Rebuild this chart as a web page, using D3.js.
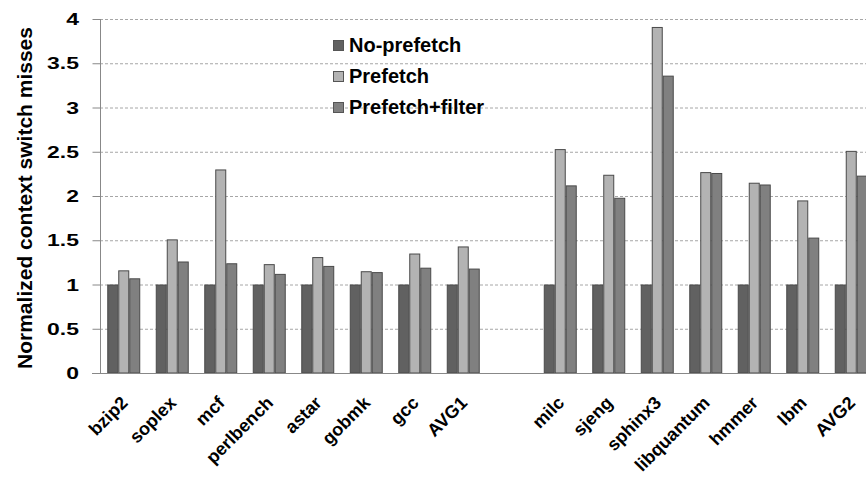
<!DOCTYPE html>
<html>
<head>
<meta charset="utf-8">
<script src="https://cdn.jsdelivr.net/npm/d3@7"></script>
<style>
  html, body { margin: 0; padding: 0; background: #fff; }
  svg { display: block; font-family: "Liberation Sans", Arial, sans-serif; font-weight: bold; }
</style>
</head>
<body>
<svg id="chart" width="866" height="479"></svg>
<script>
// Benchmarks, split into two groups with an empty slot between them
const categoriesA = ["bzip2", "soplex", "mcf", "perlbench", "astar", "gobmk", "gcc", "AVG1"];
const categoriesB = ["milc", "sjeng", "sphinx3", "libquantum", "hmmer", "lbm", "AVG2"];
const seriesNames = ["No-prefetch", "Prefetch", "Prefetch+filter"];
const seriesColors = ["#616161", "#b3b3b3", "#808080"];

// Normalized context switch misses, in benchmark order (group A then group B)
const noPrefetch     = [1, 1, 1, 1, 1, 1, 1, 1, 1, 1, 1, 1, 1, 1, 1];
const prefetch       = [1.16, 1.51, 2.30, 1.23, 1.31, 1.15, 1.35, 1.43, 2.53, 2.24, 3.91, 2.27, 2.15, 1.95, 2.51];
const prefetchFilter = [1.07, 1.26, 1.24, 1.12, 1.21, 1.14, 1.19, 1.18, 2.12, 1.98, 3.36, 2.26, 2.13, 1.53, 2.23];

const yTicks = [0, 0.5, 1, 1.5, 2, 2.5, 3, 3.5, 4];
const yTitle = "Normalized context switch misses";

const GAP = "__gap__";
const categories = [...categoriesA, ...categoriesB];
const slots = [...categoriesA, GAP, ...categoriesB];
const seriesValues = [noPrefetch, prefetch, prefetchFilter];

const rows = categories.map((c, i) => ({
  name: c,
  values: seriesNames.map((s, k) => ({ series: s, k, value: seriesValues[k][i] }))
}));

const svg = d3.select("#chart");
const plotLeft = 100, plotTop = 19, plotBottom = 373, plotRight = 866;

const x = d3.scaleBand().domain(slots).range([99.5, 875.5]).paddingInner(0.32).paddingOuter(0.16);
const xs = d3.scaleBand().domain(seriesNames).range([0, x.bandwidth()]);
const y = d3.scaleLinear().domain([0, 4]).range([plotBottom, plotTop]);

// gridlines
svg.append("g")
  .selectAll("line")
  .data(yTicks.filter(t => t > 0))
  .join("line")
  .attr("x1", plotLeft).attr("x2", plotRight)
  .attr("y1", d => y(d) + 0.5).attr("y2", d => y(d) + 0.5)
  .attr("stroke", "#a6a6a6")
  .attr("stroke-width", 1)
  .attr("stroke-dasharray", "3,2");

// bars
const groups = svg.append("g")
  .selectAll("g")
  .data(rows)
  .join("g")
  .attr("transform", d => `translate(${x(d.name)},0)`);

groups.selectAll("rect")
  .data(d => d.values)
  .join("rect")
  .attr("x", d => xs(d.series) + 0.5)
  .attr("y", d => y(d.value) + 0.5)
  .attr("width", xs.bandwidth() - 1)
  .attr("height", d => y(0) - y(d.value) - 0.5)
  .attr("fill", d => seriesColors[d.k])
  .attr("stroke", "#4a4a4a")
  .attr("stroke-width", 1);

// y axis
const yAxis = d3.axisLeft(y)
  .tickValues(yTicks)
  .tickSize(8)
  .tickPadding(0)
  .tickFormat(d3.format("~g"));

const yg = svg.append("g")
  .attr("transform", `translate(${plotLeft + 0.5},0)`)
  .call(yAxis);
yg.select(".domain").attr("stroke", "#888").attr("d", `M0,${plotTop}V${plotBottom}`);
yg.selectAll(".tick line").attr("stroke", "#888");
yg.selectAll(".tick text").remove();

// tick labels (drawn a bit wide)
svg.append("g")
  .selectAll("text")
  .data(yTicks)
  .join("text")
  .attr("transform", d => `translate(79,${y(d) + 6}) scale(1.35,1)`)
  .attr("text-anchor", "end")
  .attr("font-size", 17)
  .attr("fill", "#000")
  .text(d => d3.format("~g")(d));

// x axis baseline
svg.append("line")
  .attr("x1", plotLeft - 8).attr("x2", plotRight)
  .attr("y1", plotBottom + 0.5).attr("y2", plotBottom + 0.5)
  .attr("stroke", "#888");

// category labels, slanted up to the right
svg.append("g")
  .selectAll("text")
  .data(categories)
  .join("text")
  .attr("transform", d => `translate(${x(d) + x.bandwidth() / 2 + 5},404) rotate(-45)`)
  .attr("text-anchor", "end")
  .attr("font-size", 18)
  .attr("fill", "#000")
  .text(d => d);

// y title
svg.append("text")
  .attr("transform", `translate(32,${(plotTop + plotBottom) / 2 + 2}) rotate(-90)`)
  .attr("text-anchor", "middle")
  .attr("font-size", 21)
  .attr("fill", "#000")
  .text(yTitle);

// legend
const legend = svg.append("g").attr("transform", "translate(333,40)");
const li = legend.selectAll("g")
  .data(seriesNames)
  .join("g")
  .attr("transform", (d, i) => `translate(0,${i * 31})`);
li.append("rect")
  .attr("x", 0.5).attr("y", 0.5)
  .attr("width", 10).attr("height", 10)
  .attr("fill", (d, i) => seriesColors[i])
  .attr("stroke", "#555");
li.append("text")
  .attr("x", 16).attr("y", 12)
  .attr("font-size", 20)
  .attr("fill", "#000")
  .text(d => d);
</script>
</body>
</html>
